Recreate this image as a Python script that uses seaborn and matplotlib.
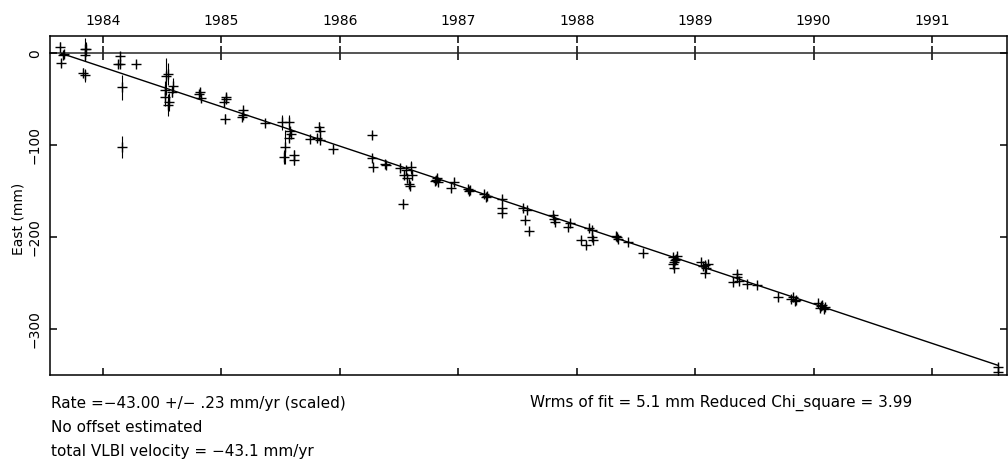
import numpy as np
import pandas as pd
import matplotlib
matplotlib.use("Agg")
import matplotlib.pyplot as plt
import seaborn as sns

# East component time series (decimal year, mm, 1-sigma mm)
epochs = [
    1983.64, 1983.66, 1983.65, 1983.67, 1983.85, 1983.86, 1983.85, 1983.83, 1983.85,
    1984.14, 1984.14, 1984.13, 1984.28, 1984.16, 1984.16,
    1984.53, 1984.55, 1984.52, 1984.52, 1984.56, 1984.55, 1984.59, 1984.58,
    1984.82, 1984.81, 1984.83, 1985.04, 1985.02, 1985.03, 1985.04,
    1985.18, 1985.18, 1985.17, 1985.37,
    1985.51, 1985.57, 1985.54, 1985.53, 1985.61, 1985.61, 1985.58, 1985.59, 1985.57,
    1985.75, 1985.82, 1985.83, 1985.81, 1985.83, 1985.94,
    1986.27, 1986.27, 1986.28, 1986.38, 1986.39,
    1986.51, 1986.56, 1986.60, 1986.61, 1986.57, 1986.58, 1986.59, 1986.54, 1986.53,
    1986.82, 1986.80, 1986.83, 1986.81, 1986.96, 1986.94, 1987.08, 1987.09, 1987.10,
    1987.22, 1987.23, 1987.24, 1987.37, 1987.37, 1987.37,
    1987.55, 1987.58, 1987.56, 1987.60,
    1987.80, 1987.81, 1987.82, 1987.94, 1987.93,
    1988.10, 1988.13, 1988.13, 1988.04, 1988.08, 1988.14,
    1988.33, 1988.35, 1988.34, 1988.43, 1988.56,
    1988.81, 1988.83, 1988.81, 1988.82, 1988.85, 1988.84, 1988.82,
    1989.05, 1989.08, 1989.09, 1989.08, 1989.11, 1989.07,
    1989.35, 1989.35, 1989.32, 1989.37, 1989.44, 1989.52,
    1989.70, 1989.83, 1989.85, 1989.81, 1989.84,
    1990.04, 1990.07, 1990.10, 1990.05, 1990.09, 1990.06,
    1991.56, 1991.56,
]
east_mm = [
    7, -2, -10, -1, 5, 5, -2, -21, -24,
    -3, -11, -12, -11, -37, -102,
    -25, -22, -40, -47, -53, -56, -35, -42,
    -42, -44, -49, -47, -53, -71, -50,
    -62, -67, -69, -76,
    -75, -75, -102, -113, -111, -116, -85, -88, -92,
    -93, -80, -85, -92, -94, -104,
    -89, -114, -124, -120, -122,
    -125, -127, -124, -133, -136, -142, -145, -133, -164,
    -136, -139, -140, -138, -140, -147, -148, -150, -149,
    -153, -157, -155, -159, -169, -174,
    -168, -171, -182, -194,
    -176, -180, -184, -185, -189,
    -190, -193, -200, -203, -209, -203,
    -199, -202, -200, -206, -218,
    -222, -225, -229, -234, -221, -224, -227,
    -227, -231, -234, -239, -229, -232,
    -240, -244, -249, -248, -251, -252,
    -266, -266, -269, -268, -270,
    -272, -274, -276, -278, -279, -275,
    -342, -347,
]
sigma_mm = [
    5, 4, 4, 3, 12, 8, 6, 5, 7,
    5, 4, 4, 3, 14, 12,
    20, 12, 10, 10, 10, 12, 8, 6,
    4, 4, 4, 4, 4, 5, 3,
    3, 3, 3, 3,
    8, 8, 18, 8, 6, 6, 5, 4, 4,
    3, 5, 4, 3, 3, 3,
    3, 3, 3, 3, 3,
    4, 4, 7, 5, 5, 5, 4, 4, 5,
    3, 3, 3, 3, 4, 4, 3, 3, 3,
    3, 3, 3, 4, 4, 4,
    3, 3, 3, 3,
    3, 3, 3, 3, 3,
    3, 3, 4, 3, 3, 4,
    3, 3, 3, 2, 4,
    3, 3, 3, 3, 3, 3, 3,
    3, 3, 3, 3, 3, 3,
    4, 3, 3, 3, 3, 3,
    4, 3, 3, 3, 3,
    3, 3, 3, 3, 3, 3,
    4, 4,
]

rate_mm_yr = -43.00
ref_epoch = 1983.65
year_ticks = [1984, 1985, 1986, 1987, 1988, 1989, 1990, 1991]
east_ticks = [0, -100, -200, -300]

summary_left = [
    "Rate =\u221243.00 +/\u2212 .23 mm/yr (scaled)",
    "No offset estimated",
    "total VLBI velocity = \u221243.1 mm/yr",
]
summary_right = "Wrms of fit = 5.1 mm Reduced Chi_square = 3.99"

df = pd.DataFrame({"epoch": epochs, "east": east_mm, "sigma": sigma_mm})
fit = pd.DataFrame({"epoch": [ref_epoch, df["epoch"].max()]})
fit["east"] = rate_mm_yr * (fit["epoch"] - ref_epoch)

sns.set_theme(style="ticks")
plt.rcParams["font.family"] = ["DejaVu Sans"]
plt.rcParams["axes.linewidth"] = 1.1

fig = plt.figure(figsize=(10.08, 4.61), dpi=100)
W, H = 1008, 461
ax = fig.add_axes([50 / W, 1 - 374.5 / H, 957 / W, 338.5 / H])

# error bars and '+' markers
ax.errorbar(df["epoch"], df["east"], yerr=df["sigma"], fmt="none",
            ecolor="black", elinewidth=0.8, capsize=0, zorder=2)
sns.scatterplot(data=df, x="epoch", y="east", marker="+", color="black",
                s=50, linewidth=1.0, ax=ax, zorder=3, legend=False)
sns.lineplot(data=fit, x="epoch", y="east", color="black", linewidth=1.0,
             ax=ax, zorder=4, legend=False)

ax.set_xlim(1983.553, 1991.633)
ax.set_ylim(-350, 19)

ax.set_xticks(year_ticks)
ax.set_yticks(east_ticks)
ax.tick_params(axis="x", which="both", direction="in", length=5, width=1.1,
               top=True, bottom=True, labeltop=True, labelbottom=False,
               labelsize=10, pad=6, colors="black")
ax.tick_params(axis="y", which="both", direction="in", length=5, width=1.1,
               left=True, right=True, labelleft=True, labelright=False,
               labelsize=10, pad=6, labelrotation=90, colors="black")
for lbl in ax.get_yticklabels():
    lbl.set_va("center")
for sp in ax.spines.values():
    sp.set_visible(True)
    sp.set_color("black")
    sp.set_linewidth(1.1)

# zero reference axis with crossing ticks
zero_frac = (0 - (-350)) / (19 - (-350))
zax = ax.secondary_xaxis(zero_frac)
zax.set_xticks(year_ticks)
zax.tick_params(axis="x", direction="inout", length=10, width=1.1,
                labeltop=False, labelbottom=False, colors="black")
zax.set_xticklabels([])
zax.spines["top"].set_linewidth(1.1)
zax.spines["bottom"].set_linewidth(1.1)

ax.set_xlabel("")
ax.set_ylabel("East (mm)", fontsize=10, labelpad=1, color="black")
ax.yaxis.set_label_coords(-25 / 957, 0.46)

for i, s in enumerate(summary_left):
    fig.text(51 / W, 1 - (403 + 24 * i) / H, s, fontsize=11, va="center",
             ha="left", color="black")
fig.text(530 / W, 1 - 403 / H, summary_right, fontsize=11, va="center",
         ha="left", color="black")

fig.savefig("out.png", dpi=100)
